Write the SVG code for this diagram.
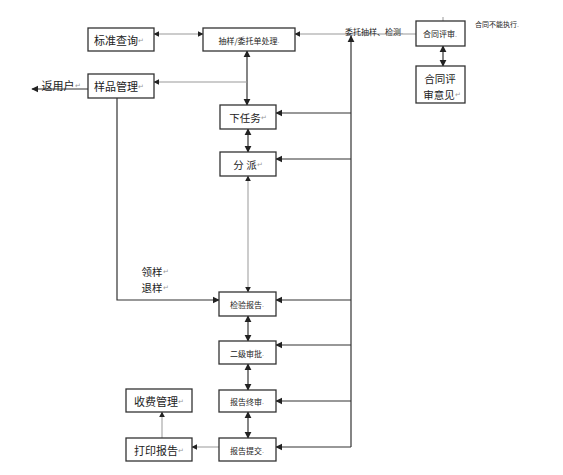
<svg xmlns="http://www.w3.org/2000/svg" width="563" height="475" viewBox="0 0 563 475">
<style>
.box{fill:#fff;stroke:#333;stroke-width:1.3}
.t{font-family:"Noto Sans CJK SC","Liberation Sans",sans-serif;fill:#222;text-anchor:middle;dominant-baseline:central}
.l{font-size:11px}
.s{font-size:8px}
.m{font-size:10.5px}
.pm{fill:#999;font-size:7px}
.c{fill:none;stroke:#333;stroke-width:1.2}
.g{fill:none;stroke:#999;stroke-width:1}
</style>
<defs>
<marker id="a" viewBox="0 0 10 10" refX="9" refY="5" markerWidth="6" markerHeight="6" orient="auto-start-reverse"><path d="M0,0L10,5L0,10z" fill="#222"/></marker>
</defs>
<rect width="563" height="475" fill="#fff"/>
<g id="connectors">
<path class="g" d="M154,34H203" marker-start="url(#a)" marker-end="url(#a)"/>
<path class="c" d="M247,51V105" marker-start="url(#a)" marker-end="url(#a)"/>
<path class="g" d="M247,82H154" marker-end="url(#a)"/>
<path class="c" d="M88,89H32" marker-end="url(#a)"/>
<path class="g" d="M416,34H295" marker-end="url(#a)"/>
<path class="c" d="M351,447V36" marker-end="url(#a)"/>
<path class="c" d="M351,113H276" marker-end="url(#a)"/>
<path class="c" d="M351,159H276" marker-end="url(#a)"/>
<path class="c" d="M351,300H276" marker-end="url(#a)"/>
<path class="c" d="M351,345H276" marker-end="url(#a)"/>
<path class="c" d="M351,401H276" marker-end="url(#a)"/>
<path class="c" d="M351,447H276" marker-end="url(#a)"/>
<path class="c" d="M248,129V152" marker-start="url(#a)" marker-end="url(#a)"/>
<path class="g" d="M248,176V292" marker-start="url(#a)" marker-end="url(#a)"/>
<path class="c" d="M117,98V300H219" marker-end="url(#a)"/>
<path class="c" d="M248,316V341" marker-start="url(#a)" marker-end="url(#a)"/>
<path class="c" d="M248,364V390" marker-start="url(#a)" marker-end="url(#a)"/>
<path class="c" d="M248,412V438" marker-start="url(#a)" marker-end="url(#a)"/>
<path class="g" d="M219,447H192" marker-end="url(#a)"/>
<path class="g" d="M162,438V412" marker-end="url(#a)"/>
<path class="c" d="M443,46V66" marker-start="url(#a)" marker-end="url(#a)"/>
<path class="g" d="M443,21V17"/>
</g>
<g id="n-biaozhun"><rect class="box" x="88" y="28" width="66" height="23"/><text class="t l" x="119" y="40">标准查询<tspan class="pm">↵</tspan></text></g>
<g id="n-chouyang"><rect class="box" x="203" y="28" width="92" height="23"/><text class="t s" x="249" y="40">抽样/委托单处理<tspan class="pm">.</tspan></text></g>
<g id="n-yangpin"><rect class="box" x="88" y="74" width="66" height="24"/><text class="t l" x="119" y="86">样品管理<tspan class="pm">↵</tspan></text></g>
<g id="n-fanyonghu"><text class="t l" x="61" y="85">返用户<tspan class="pm">↵</tspan></text></g>
<g id="n-weituo"><text class="t s" x="374" y="31">委托抽样、检测<tspan class="pm">.</tspan></text></g>
<g id="n-hetong"><rect class="box" x="416" y="21" width="49" height="25"/><text class="t s" x="440" y="33.5">合同评审<tspan class="pm">.</tspan></text></g>
<g id="n-buneng"><text class="t" style="font-size:7px" x="497" y="24">合同不能执行<tspan class="pm">.</tspan></text></g>
<g id="n-yijian"><rect class="box" x="416" y="66" width="49" height="37"/><text class="t m" x="440" y="78">合同评</text><text class="t m" x="442" y="94">审意见<tspan class="pm">↵</tspan></text></g>
<g id="n-xiarenwu"><rect class="box" x="220" y="105" width="56" height="24"/><text class="t m" x="248" y="117">下任务<tspan class="pm">↵</tspan></text></g>
<g id="n-fenpai"><rect class="box" x="220" y="152" width="56" height="24"/><text class="t m" x="248" y="164">分 派<tspan class="pm">↵</tspan></text></g>
<g id="n-lingyang"><text class="t m" x="155" y="271">领样<tspan class="pm">↵</tspan></text><text class="t m" x="155" y="287">退样<tspan class="pm">↵</tspan></text></g>
<g id="n-jianyan"><rect class="box" x="219" y="292" width="57" height="24"/><text class="t s" x="247" y="304">检验报告<tspan class="pm">.</tspan></text></g>
<g id="n-erji"><rect class="box" x="219" y="341" width="57" height="23"/><text class="t s" x="247" y="353">二级审批<tspan class="pm">.</tspan></text></g>
<g id="n-zhongshen"><rect class="box" x="219" y="390" width="57" height="22"/><text class="t s" x="247" y="401">报告终审<tspan class="pm">.</tspan></text></g>
<g id="n-tijiao"><rect class="box" x="219" y="438" width="57" height="23"/><text class="t s" x="247" y="450">报告提交<tspan class="pm">.</tspan></text></g>
<g id="n-shoufei"><rect class="box" x="126" y="389" width="66" height="23"/><text class="t l" x="159" y="400.5">收费管理<tspan class="pm">↵</tspan></text></g>
<g id="n-dayin"><rect class="box" x="126" y="438" width="66" height="23"/><text class="t l" x="159" y="450">打印报告<tspan class="pm">↵</tspan></text></g>
</svg>
